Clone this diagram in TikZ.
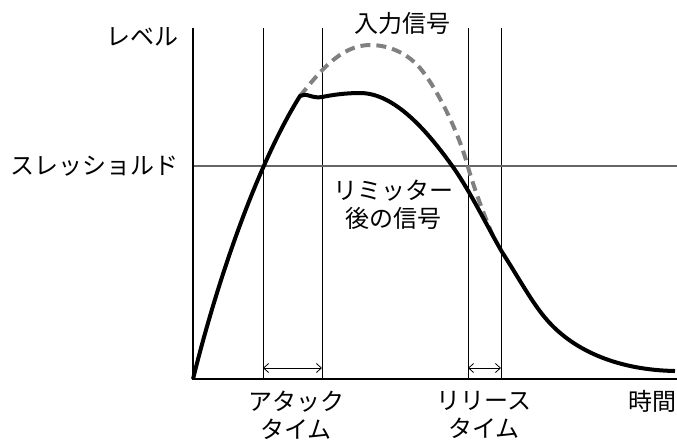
\documentclass[tikz,border=0pt]{standalone}
\usepackage{fontspec}
\setmainfont{Noto Sans CJK JP}
\usetikzlibrary{arrows.meta,positioning}

\begin{document}
\begin{tikzpicture}[
  x=1pt,y=-1pt,
  font=\fontsize{24}{28}\selectfont,
  axis/.style={draw,line width=2pt},
  guide/.style={draw,line width=0.9pt},
  thresh/.style={draw,black!60,line width=1.4pt},
  span/.style={draw,line width=0.8pt,{Straight Barb[length=5pt,width=9pt]}-{Straight Barb[length=5pt,width=9pt]}},
  limited/.style={draw,line width=4pt,line join=round},
  input/.style={draw,black!50,line width=4pt,dash pattern=on 10pt off 6pt}
]
\useasboundingbox (0,0) rectangle (677,440);
\coordinate (O) at (193,379);
\coordinate (Ytop) at (193,28);
\coordinate (Xend) at (677,379);
\coordinate (T0) at (193,166);
\coordinate (T1) at (677,166);
\coordinate (knee) at (300,96);
\coordinate (merge) at (493,236);
\foreach \n/\x in {a/263,b/322,c/468,d/501}{
  \coordinate (top-\n) at (\x,28);
  \coordinate (bot-\n) at (\x,379);
  \coordinate (arr-\n) at (\x,368);
  \draw[guide] (top-\n) -- (bot-\n);
}
\draw[thresh] (T0) -- (T1);
\draw[axis] (Ytop) -- (O) -- (Xend);
\draw[span] (arr-a) -- (arr-b);
\draw[span] (arr-c) -- (arr-d);
\draw[input] (knee) .. controls (318,74) and (340,45) .. (370,45)
  .. controls (390,45) and (408,54) .. (420,68)
  .. controls (436,87) and (458,130) .. (468,167)
  .. controls (474,188) and (484,215) .. (merge);
\draw[limited] (O) .. controls (220,270) and (260,160) .. (knee)
  .. controls (306,92) and (312,99) .. (322,97)
  .. controls (332,95) and (345,93) .. (360,93)
  .. controls (395,93) and (428,132) .. (453,167)
  .. controls (470,191) and (487,226) .. (502,252)
  .. controls (517,275) and (532,303) .. (547,320)
  .. controls (575,352) and (620,370) .. (675,371);
\node[anchor=east] (level) at (182,37) {レベル};
\node[anchor=east] (threshold) at (182,166) {スレッショルド};
\node (inputlbl) at (402,23) {入力信号};
\node[align=center] (output) at (393,205) {リミッター\\後の信号};
\node[align=center] (attack) at (296,415) {アタック\\タイム};
\node[align=center] (release) at (484,415) {リリース\\タイム};
\node (time) at (652,401) {時間};
\end{tikzpicture}
\end{document}
